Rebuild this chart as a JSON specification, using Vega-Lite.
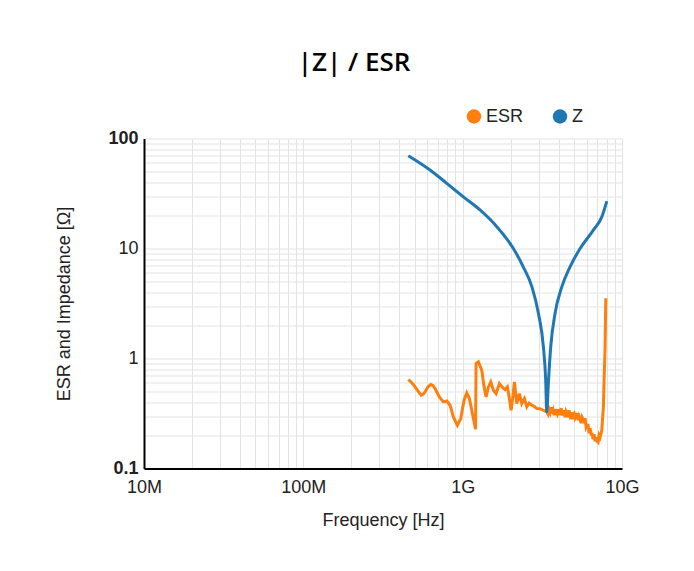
{
  "$schema": "https://vega.github.io/schema/vega-lite/v6.json",
  "autosize": {"type": "none"},
  "width": 478,
  "height": 330,
  "padding": {"left": 144, "top": 138.5, "right": 72, "bottom": 102.5},
  "background": "white",
  "title": {
    "text": "|Z|  / ESR",
    "font": "Open Sans",
    "fontSize": 26,
    "fontWeight": 600,
    "color": "#000",
    "anchor": "middle",
    "dx": -29,
    "offset": 32
  },
  "datasets": {
    "curves": [
      {"f": 456100000, "v": 0.644, "series": "ESR"},
      {"f": 474400000, "v": 0.609, "series": "ESR"},
      {"f": 490400000, "v": 0.580, "series": "ESR"},
      {"f": 519600000, "v": 0.515, "series": "ESR"},
      {"f": 548100000, "v": 0.464, "series": "ESR"},
      {"f": 564200000, "v": 0.473, "series": "ESR"},
      {"f": 580800000, "v": 0.497, "series": "ESR"},
      {"f": 606500000, "v": 0.554, "series": "ESR"},
      {"f": 630700000, "v": 0.580, "series": "ESR"},
      {"f": 652000000, "v": 0.566, "series": "ESR"},
      {"f": 671100000, "v": 0.533, "series": "ESR"},
      {"f": 714200000, "v": 0.447, "series": "ESR"},
      {"f": 756800000, "v": 0.403, "series": "ESR"},
      {"f": 794800000, "v": 0.411, "series": "ESR"},
      {"f": 833600000, "v": 0.376, "series": "ESR"},
      {"f": 874500000, "v": 0.294, "series": "ESR"},
      {"f": 926500000, "v": 0.247, "series": "ESR"},
      {"f": 972900000, "v": 0.284, "series": "ESR"},
      {"f": 1020500000, "v": 0.4175, "series": "ESR"},
      {"f": 1061200000, "v": 0.486, "series": "ESR"},
      {"f": 1101700000, "v": 0.4325, "series": "ESR"},
      {"f": 1157100000, "v": 0.305, "series": "ESR"},
      {"f": 1191200000, "v": 0.247, "series": "ESR"},
      {"f": 1205000000, "v": 0.2273, "series": "ESR"},
      {"f": 1213700000, "v": 0.9006, "series": "ESR"},
      {"f": 1254900000, "v": 0.9311, "series": "ESR"},
      {"f": 1318200000, "v": 0.7824, "series": "ESR"},
      {"f": 1362900000, "v": 0.5517, "series": "ESR"},
      {"f": 1402800000, "v": 0.447, "series": "ESR"},
      {"f": 1450300000, "v": 0.5517, "series": "ESR"},
      {"f": 1501300000, "v": 0.6124, "series": "ESR"},
      {"f": 1559000000, "v": 0.515, "series": "ESR"},
      {"f": 1621000000, "v": 0.480, "series": "ESR"},
      {"f": 1700300000, "v": 0.592, "series": "ESR"},
      {"f": 1768000000, "v": 0.5517, "series": "ESR"},
      {"f": 1846300000, "v": 0.522, "series": "ESR"},
      {"f": 1908800000, "v": 0.5517, "series": "ESR"},
      {"f": 1964800000, "v": 0.4325, "series": "ESR"},
      {"f": 2013700000, "v": 0.3386, "series": "ESR"},
      {"f": 2072600000, "v": 0.464, "series": "ESR"},
      {"f": 2112100000, "v": 0.6124, "series": "ESR"},
      {"f": 2186400000, "v": 0.3895, "series": "ESR"},
      {"f": 2269900000, "v": 0.480, "series": "ESR"},
      {"f": 2349700000, "v": 0.3895, "series": "ESR"},
      {"f": 2439800000, "v": 0.4325, "series": "ESR"},
      {"f": 2525500000, "v": 0.3628, "series": "ESR"},
      {"f": 2610700000, "v": 0.392, "series": "ESR"},
      {"f": 2715000000, "v": 0.376, "series": "ESR"},
      {"f": 2806500000, "v": 0.3681, "series": "ESR"},
      {"f": 2918500000, "v": 0.3508, "series": "ESR"},
      {"f": 3061400000, "v": 0.3493, "series": "ESR"},
      {"f": 3196900000, "v": 0.3386, "series": "ESR"},
      {"f": 3372900000, "v": 0.3266, "series": "ESR"},
      {"f": 3436600000, "v": 0.3113, "series": "ESR"},
      {"f": 3486600000, "v": 0.3457, "series": "ESR"},
      {"f": 3537400000, "v": 0.3246, "series": "ESR"},
      {"f": 3588900000, "v": 0.3605, "series": "ESR"},
      {"f": 3641200000, "v": 0.3179, "series": "ESR"},
      {"f": 3694200000, "v": 0.3385, "series": "ESR"},
      {"f": 3748000000, "v": 0.3048, "series": "ESR"},
      {"f": 3802600000, "v": 0.3457, "series": "ESR"},
      {"f": 3858000000, "v": 0.3246, "series": "ESR"},
      {"f": 3914200000, "v": 0.3113, "series": "ESR"},
      {"f": 3971200000, "v": 0.3457, "series": "ESR"},
      {"f": 4029000000, "v": 0.3048, "series": "ESR"},
      {"f": 4087700000, "v": 0.3315, "series": "ESR"},
      {"f": 4147200000, "v": 0.3530, "series": "ESR"},
      {"f": 4207600000, "v": 0.3113, "series": "ESR"},
      {"f": 4268900000, "v": 0.3113, "series": "ESR"},
      {"f": 4331100000, "v": 0.3385, "series": "ESR"},
      {"f": 4394100000, "v": 0.2923, "series": "ESR"},
      {"f": 4458100000, "v": 0.3315, "series": "ESR"},
      {"f": 4523000000, "v": 0.3179, "series": "ESR"},
      {"f": 4588900000, "v": 0.2923, "series": "ESR"},
      {"f": 4655700000, "v": 0.3385, "series": "ESR"},
      {"f": 4723500000, "v": 0.3048, "series": "ESR"},
      {"f": 4792300000, "v": 0.3246, "series": "ESR"},
      {"f": 4862100000, "v": 0.2803, "series": "ESR"},
      {"f": 4932900000, "v": 0.3113, "series": "ESR"},
      {"f": 5004700000, "v": 0.3179, "series": "ESR"},
      {"f": 5077600000, "v": 0.2863, "series": "ESR"},
      {"f": 5151500000, "v": 0.2985, "series": "ESR"},
      {"f": 5226500000, "v": 0.3179, "series": "ESR"},
      {"f": 5302600000, "v": 0.2745, "series": "ESR"},
      {"f": 5379800000, "v": 0.2985, "series": "ESR"},
      {"f": 5458200000, "v": 0.2803, "series": "ESR"},
      {"f": 5537700000, "v": 0.2578, "series": "ESR"},
      {"f": 5618300000, "v": 0.2923, "series": "ESR"},
      {"f": 5700100000, "v": 0.2803, "series": "ESR"},
      {"f": 5783100000, "v": 0.2578, "series": "ESR"},
      {"f": 5867300000, "v": 0.2863, "series": "ESR"},
      {"f": 5952800000, "v": 0.2371, "series": "ESR"},
      {"f": 6039500000, "v": 0.2472, "series": "ESR"},
      {"f": 6127400000, "v": 0.2472, "series": "ESR"},
      {"f": 6216600000, "v": 0.2091, "series": "ESR"},
      {"f": 6307200000, "v": 0.2322, "series": "ESR"},
      {"f": 6399000000, "v": 0.2047, "series": "ESR"},
      {"f": 6492200000, "v": 0.2047, "series": "ESR"},
      {"f": 6586700000, "v": 0.1844, "series": "ESR"},
      {"f": 6682600000, "v": 0.2047, "series": "ESR"},
      {"f": 6779900000, "v": 0.1768, "series": "ESR"},
      {"f": 6878700000, "v": 0.1922, "series": "ESR"},
      {"f": 6978800000, "v": 0.1768, "series": "ESR"},
      {"f": 7080500000, "v": 0.1731, "series": "ESR"},
      {"f": 7183600000, "v": 0.2005, "series": "ESR"},
      {"f": 7288200000, "v": 0.1922, "series": "ESR"},
      {"f": 7468100000, "v": 0.2227, "series": "ESR"},
      {"f": 7554600000, "v": 0.2862, "series": "ESR"},
      {"f": 7642000000, "v": 0.3628, "series": "ESR"},
      {"f": 7721700000, "v": 0.6345, "series": "ESR"},
      {"f": 7832600000, "v": 1.2749, "series": "ESR"},
      {"f": 7912400000, "v": 3.5237, "series": "ESR"},
      {"f": 456000000, "v": 69.7, "series": "Z"},
      {"f": 624000000, "v": 51.7, "series": "Z"},
      {"f": 795000000, "v": 39.1, "series": "Z"},
      {"f": 1010000000, "v": 29.5, "series": "Z"},
      {"f": 1285000000, "v": 22.4, "series": "Z"},
      {"f": 1637000000, "v": 15.8, "series": "Z"},
      {"f": 2080000000, "v": 10.0, "series": "Z"},
      {"f": 2400000000, "v": 6.82, "series": "Z"},
      {"f": 2720000000, "v": 4.48, "series": "Z"},
      {"f": 2990000000, "v": 2.57, "series": "Z"},
      {"f": 3210000000, "v": 1.28, "series": "Z"},
      {"f": 3320000000, "v": 0.635, "series": "Z"},
      {"f": 3370000000, "v": 0.327, "series": "Z"},
      {"f": 3450000000, "v": 0.596, "series": "Z"},
      {"f": 3570000000, "v": 1.28, "series": "Z"},
      {"f": 3800000000, "v": 2.57, "series": "Z"},
      {"f": 4190000000, "v": 4.48, "series": "Z"},
      {"f": 4720000000, "v": 6.82, "series": "Z"},
      {"f": 5460000000, "v": 10.0, "series": "Z"},
      {"f": 6610000000, "v": 14.7, "series": "Z"},
      {"f": 7470000000, "v": 19.4, "series": "Z"},
      {"f": 8030000000, "v": 27.0, "series": "Z"}
    ]
  },
  "data": {"name": "curves"},
  "encoding": {
    "x": {
      "field": "f",
      "type": "quantitative",
      "scale": {"type": "log", "domain": [10000000, 10000000000], "nice": false},
      "axis": {
        "title": "Frequency [Hz]",
        "values": [10000000, 20000000, 30000000, 40000000, 50000000, 60000000, 70000000, 80000000, 90000000,
                   100000000, 200000000, 300000000, 400000000, 500000000, 600000000, 700000000, 800000000, 900000000,
                   1000000000, 2000000000, 3000000000, 4000000000, 5000000000, 6000000000, 7000000000, 8000000000, 9000000000,
                   10000000000],
        "labelExpr": "datum.value == 10000000 ? '10M' : datum.value == 100000000 ? '100M' : datum.value == 1000000000 ? '1G' : datum.value == 10000000000 ? '10G' : ''",
        "labelOverlap": false,
        "labelFlush": false,
        "labelBound": false,
        "ticks": false,
        "labelPadding": 10,
        "titlePadding": 15
      }
    },
    "y": {
      "field": "v",
      "type": "quantitative",
      "scale": {"type": "log", "domain": [0.1, 100], "nice": false},
      "axis": {
        "title": "ESR and Impedance [Ω]",
        "values": [0.1, 0.2, 0.3, 0.4, 0.5, 0.6, 0.7, 0.8, 0.9,
                   1, 2, 3, 4, 5, 6, 7, 8, 9,
                   10, 20, 30, 40, 50, 60, 70, 80, 90, 100],
        "labelExpr": "datum.value == 100 ? '100' : datum.value == 10 ? '10' : datum.value == 1 ? '1' : datum.value == 0.1 ? '0.1' : ''",
        "labelFontWeight": {"condition": {"test": "datum.value == 100 || datum.value == 0.1", "value": "bold"}, "value": "normal"},
        "labelOverlap": false,
        "labelFlush": false,
        "labelBound": false,
        "ticks": false,
        "labelPadding": 6,
        "titlePadding": 34
      }
    },
    "color": {
      "field": "series",
      "type": "nominal",
      "scale": {"domain": ["ESR", "Z"], "range": ["#ff7f0e", "#1f77b4"]},
      "legend": {
        "title": null,
        "orient": "none",
        "direction": "horizontal",
        "legendX": 321,
        "legendY": -31,
        "symbolType": "circle",
        "symbolSize": 210,
        "symbolStrokeWidth": 0,
        "labelFont": "Liberation Sans",
        "labelFontSize": 18,
        "labelColor": "#222",
        "labelOffset": 3,
        "columnPadding": 27,
        "encode": {
          "symbols": {"update": {"fill": {"scale": "color", "field": "value"}, "fillOpacity": {"value": 1}, "strokeWidth": {"value": 0}}}
        }
      }
    }
  },
  "layer": [
    {
      "transform": [{"filter": "datum.series == 'ESR'"}],
      "mark": {"type": "line", "strokeWidth": 3, "interpolate": "linear"}
    },
    {
      "transform": [{"filter": "datum.series == 'Z'"}],
      "mark": {"type": "line", "strokeWidth": 3, "interpolate": "monotone"}
    }
  ],
  "config": {
    "view": {"stroke": null},
    "axis": {
      "domainColor": "#000",
      "domainWidth": 2,
      "gridColor": "#e3e3e3",
      "gridWidth": 1,
      "labelFont": "Liberation Sans",
      "labelFontSize": 18,
      "labelColor": "#222",
      "titleFont": "Liberation Sans",
      "titleFontSize": 18,
      "titleFontWeight": "normal",
      "titleColor": "#222"
    }
  }
}
